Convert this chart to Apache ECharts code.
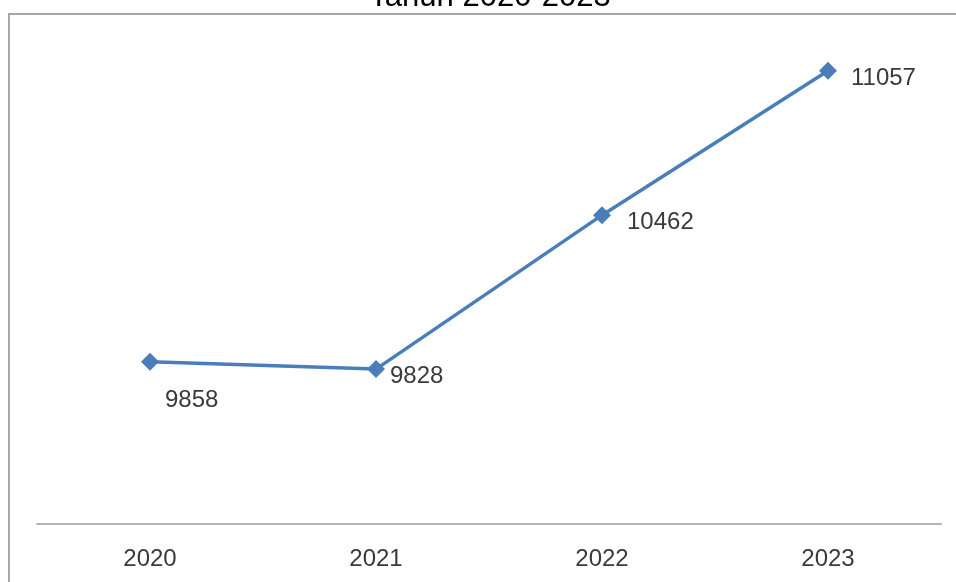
<!DOCTYPE html>
<html>
<head>
<meta charset="utf-8">
<style>
  html, body { margin: 0; padding: 0; background: #ffffff; }
  #chart { width: 956px; height: 582px; }
</style>
<script src="https://cdn.jsdelivr.net/npm/echarts@6/dist/echarts.min.js"></script>
</head>
<body>
<div id="chart"></div>
<script>
// Yearly totals, 2020-2023
const years = ['2020', '2021', '2022', '2023'];
const totals = [9858, 9828, 10462, 11057];
const chartTitle = 'Tahun 2020-2023';

const chart = echarts.init(document.getElementById('chart'), null, { renderer: 'canvas' });

const labelFont = {
  fontFamily: 'Liberation Sans, Arial, sans-serif',
  fontSize: 24,
  color: '#3a3a3a'
};

// Label placement per point: first one below-right of its marker, the rest to the right
const labelGap = [6, 5, 16, 14];
const labelDrop = [39, 7, 7, 8];
const seriesData = totals.map((v, i) => ({
  value: v,
  label: { position: 'right', distance: labelGap[i], offset: [0, labelDrop[i]] }
}));

chart.setOption({
  backgroundColor: '#ffffff',
  animation: false,
  graphic: [
    {
      type: 'rect',
      shape: { x: 9, y: 14, width: 1000, height: 700 },
      style: { fill: 'none', stroke: '#a6a6a6', lineWidth: 2 },
      silent: true,
      z: -1
    },
    {
      type: 'text',
      x: 490,
      y: -3,
      style: {
        text: chartTitle,
        fontFamily: 'Liberation Sans, Arial, sans-serif',
        fontSize: 31,
        fill: '#000000',
        textAlign: 'center',
        textVerticalAlign: 'middle'
      },
      silent: true
    }
  ],
  grid: { left: 37, right: 15, top: 36, bottom: 58 },
  xAxis: {
    type: 'category',
    data: years,
    boundaryGap: true,
    axisLine: { show: true, lineStyle: { color: '#b4b4b4', width: 2 } },
    axisTick: { show: false },
    axisLabel: Object.assign({ margin: 23 }, labelFont),
    splitLine: { show: false }
  },
  yAxis: {
    type: 'value',
    min: 9190,
    max: 11200,
    show: false,
    splitLine: { show: false }
  },
  series: [{
    type: 'line',
    data: seriesData,
    symbol: 'diamond',
    symbolSize: 18,
    itemStyle: { color: '#4a7ebb' },
    lineStyle: { color: '#4a7ebb', width: 3.5 },
    label: Object.assign({ show: true }, labelFont)
  }]
});
</script>
</body>
</html>
